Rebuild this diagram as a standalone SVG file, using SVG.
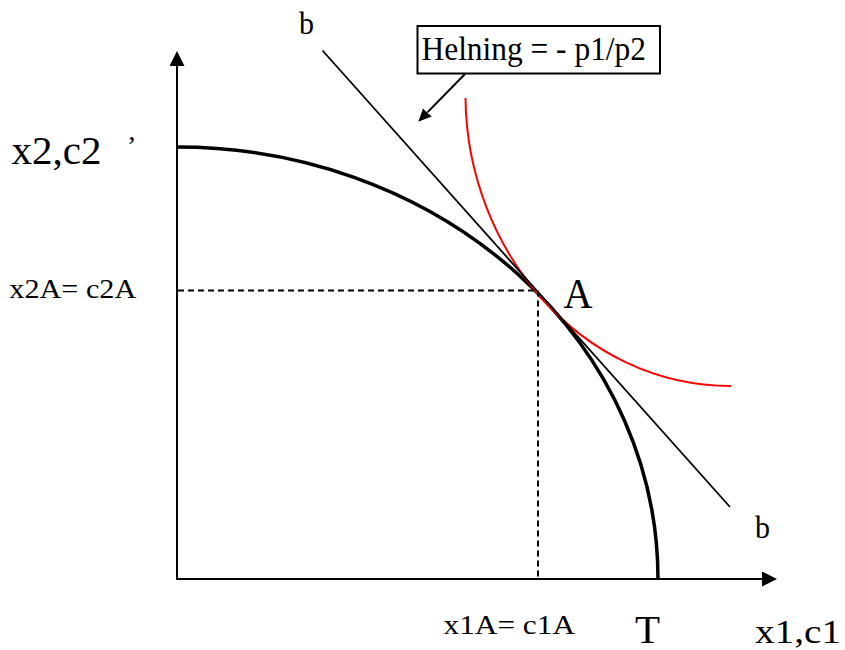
<svg xmlns="http://www.w3.org/2000/svg" width="845" height="650" viewBox="0 0 845 650">
  <style>
    .t { font-family: "Liberation Serif", "Times New Roman", serif; fill: #000; }
    .ax { stroke: #000; stroke-width: 2; fill: none; }
    .dash { stroke: #000; stroke-width: 2; stroke-dasharray: 6 4; fill: none; }
  </style>
  <defs>
    <marker id="axhead" markerUnits="userSpaceOnUse" markerWidth="16" markerHeight="16" refX="0" refY="7.5" orient="auto">
      <path d="M0,0 L15,7.5 L0,15 z" fill="#000"/>
    </marker>
    <marker id="callhead" markerUnits="userSpaceOnUse" markerWidth="14" markerHeight="14" refX="0" refY="6" orient="auto">
      <path d="M0,0 L13,6 L0,12 z" fill="#000"/>
    </marker>
  </defs>
  <rect width="845" height="650" fill="#fff"/>

  <g id="axes">
    <line class="ax" x1="177" y1="579" x2="177" y2="66" marker-end="url(#axhead)"/>
    <line class="ax" x1="176" y1="579" x2="762" y2="579" marker-end="url(#axhead)"/>
  </g>

  <g id="frontier">
    <path d="M177,147 A481,432 0 0 1 658,579" fill="none" stroke="#000" stroke-width="3.5"/>
  </g>

  <g id="indifference">
    <path d="M465.5,98 C467,250 580,386 731,386" fill="none" stroke="#ff0000" stroke-width="2"/>
  </g>

  <g id="budget-line">
    <line x1="322.5" y1="50.5" x2="730" y2="507" stroke="#000" stroke-width="1.8"/>
    <text class="t" x="299" y="34" font-size="31" textLength="15" lengthAdjust="spacingAndGlyphs">b</text>
    <text class="t" x="755" y="538" font-size="31" textLength="15" lengthAdjust="spacingAndGlyphs">b</text>
  </g>

  <g id="label-box">
    <rect x="417.5" y="26" width="242.5" height="47.5" fill="#fff" stroke="#000" stroke-width="2"/>
    <text class="t" x="421.5" y="59.5" font-size="33" textLength="224.5" lengthAdjust="spacingAndGlyphs">Helning = - p1/p2</text>
  </g>

  <g id="connectors">
    <line x1="465" y1="74" x2="427.4" y2="112.4" stroke="#000" stroke-width="2" marker-end="url(#callhead)"/>
    <line class="dash" x1="178" y1="290.5" x2="538" y2="290.5"/>
    <line class="dash" x1="538" y1="290.5" x2="538" y2="579"/>
  </g>

  <g id="point-A">
    <text class="t" x="563.5" y="307.5" font-size="42" textLength="29" lengthAdjust="spacingAndGlyphs">A</text>
  </g>

  <g id="labels">
    <text class="t" x="11.5" y="164" font-size="41" textLength="90" lengthAdjust="spacingAndGlyphs">x2,c2</text>
    <text class="t" x="127" y="155" font-size="28">’</text>
    <text class="t" x="9.3" y="298" font-size="27" textLength="127" lengthAdjust="spacingAndGlyphs">x2A= c2A</text>
    <text class="t" x="443.5" y="634" font-size="27" textLength="131.5" lengthAdjust="spacingAndGlyphs">x1A= c1A</text>
    <text class="t" x="635" y="643" font-size="41">T</text>
    <text class="t" x="755" y="643" font-size="34" textLength="86" lengthAdjust="spacingAndGlyphs">x1,c1</text>
  </g>
</svg>
